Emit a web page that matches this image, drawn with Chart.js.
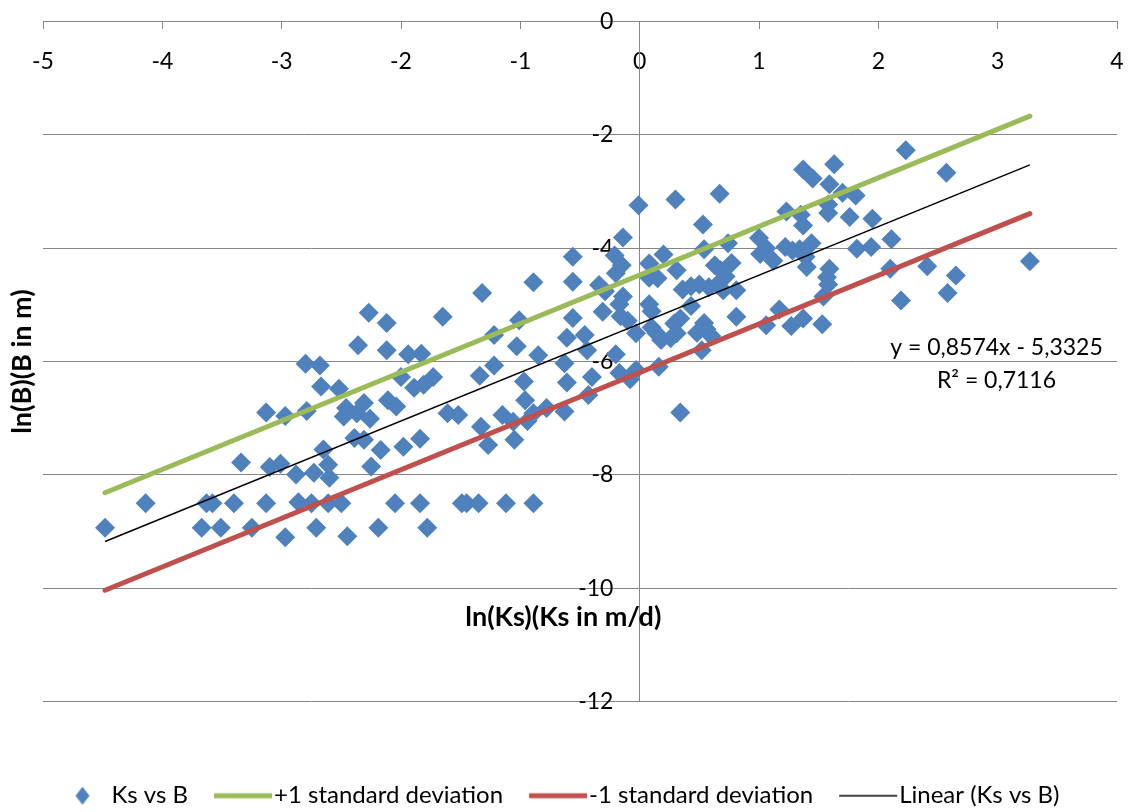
<!DOCTYPE html>
<html>
<head>
<meta charset="utf-8">
<title>ln(Ks) vs ln(B)</title>
<script src="https://cdn.jsdelivr.net/npm/chart.js@4.4.1/dist/chart.umd.min.js"></script>
<style>
  html, body { margin: 0; padding: 0; background: #ffffff; }
  #wrap { position: relative; width: 1132px; height: 812px; }
</style>
</head>
<body>
<div id="wrap"><canvas id="chart" width="1132" height="812"></canvas></div>
<script>
// ln(Ks) (Ks in m/d) for each sample
const lnKs = [
  -4.48, -4.14, -3.67, -3.63, -3.58, -3.51, -3.40, -3.34, -3.25, -3.13, -3.13, -3.10, -3.01, -2.97, -2.97, -2.88, -2.86,
  -2.80, -2.68, -2.79, -2.73, -2.71, -2.75, -2.67, -2.65, -2.61, -2.60, -2.61, -2.52, -2.50, -2.46, -2.48, -2.45, -2.39,
  -2.36, -2.37, -2.31, -2.31, -2.27, -2.26, -2.25, -2.19, -2.17, -2.12, -2.12, -2.11, -2.04, -2.05,
  -2.00, -1.98, -1.94, -1.89, -1.84, -1.83, -1.81, -1.73, -1.84, -1.78, -1.65, -1.61, -1.52, -1.49, -1.45, -1.35, -1.34,
  -1.33, -1.32, -1.27, -1.22, -1.22, -1.15, -1.12, -1.06, -1.05, -1.03, -1.01, -0.97, -0.96, -0.94, -0.89, -0.89, -0.89, -0.85,
  -0.78, -0.63, -0.63, -0.61, -0.61, -0.56, -0.56, -0.56, -0.46, -0.44, -0.43, -0.40, -0.34, -0.29, -0.31, -0.21, -0.15,
  -0.20, -0.14, -0.14, -0.17, -0.16, -0.10, -0.20, -0.17, -0.08, -0.03, -0.03, -0.01,
  0.08, 0.10, 0.08, 0.08, 0.15, 0.10, 0.14, 0.18, 0.16, 0.20, 0.26, 0.31, 0.29, 0.30, 0.31, 0.34, 0.34, 0.36, 0.43, 0.50,
  0.58, 0.65, 0.70, 0.81, 0.43, 0.48, 0.52, 0.54, 0.56, 0.60, 0.53, 0.54, 0.63, 0.67, 0.68, 0.77, 0.72, 0.74, 0.81, 1.00,
  1.06, 1.01, 1.12, 1.06, 1.17, 1.22, 1.28, 1.34, 1.23, 1.27,
  1.35, 1.37, 1.37, 1.45, 1.39, 1.44, 1.40, 1.37, 1.53, 1.54, 1.57, 1.59, 1.58, 1.58, 1.58, 1.59, 1.63, 1.70, 1.81, 1.76,
  1.82, 1.94, 1.95, 2.11, 2.10, 2.19, 2.23, 2.41, 2.57, 2.58, 2.65, 3.27
];

// ln(B) (B in m) for the same samples
const lnB = [
  -8.93, -8.50, -8.93, -8.50, -8.50, -8.93, -8.50, -7.78, -8.93, -6.90, -8.50, -7.86, -7.80, -6.96, -9.10, -7.99, -8.48,
  -6.04, -6.07, -6.87, -7.96, -8.93, -8.50, -6.44, -7.55, -7.82, -8.05, -8.50, -6.48, -8.50, -6.82, -6.97, -9.08, -7.35,
  -5.71, -6.91, -6.73, -7.38, -5.14, -7.01, -7.85, -8.93, -7.56, -5.80, -5.32, -6.68, -6.79, -8.50,
  -6.27, -7.50, -5.87, -6.46, -7.36, -5.86, -6.41, -6.27, -8.50, -8.93, -5.21, -6.91, -6.94, -8.50, -8.50, -8.50, -6.25,
  -7.15, -4.79, -7.47, -6.07, -5.53, -6.94, -8.50, -7.06, -7.38, -5.73, -5.27, -6.35, -6.68, -7.05, -6.91, -4.60, -8.50, -5.89,
  -6.82, -6.03, -6.88, -6.37, -5.58, -4.15, -4.59, -5.23, -5.53, -5.80, -6.59, -6.27, -4.65, -4.76, -5.12, -4.13, -4.30,
  -4.44, -3.81, -4.85, -4.99, -5.20, -5.28, -5.87, -6.20, -6.31, -6.15, -5.50, -3.24,
  -4.99, -5.11, -4.27, -4.52, -4.53, -5.40, -5.50, -5.62, -6.09, -4.11, -5.59, -5.50, -5.33, -3.14, -4.39, -5.24, -6.90, -4.73, -4.67, -4.64,
  -4.69, -4.64, -4.74, -4.74, -5.02, -5.49, -5.80, -5.32, -5.43, -5.55, -3.58, -4.02, -4.30, -3.04, -4.39, -4.26, -4.50, -3.91, -5.21, -3.82,
  -4.00, -4.10, -4.22, -5.36, -5.08, -3.98, -4.04, -4.02, -3.35, -5.37,
  -3.41, -3.60, -2.61, -2.77, -4.15, -3.91, -4.33, -5.24, -5.34, -4.85, -4.51, -4.36, -4.64, -3.38, -3.23, -2.87, -2.52, -3.02, -3.07, -3.45,
  -4.01, -3.98, -3.48, -3.84, -4.36, -4.92, -2.27, -4.32, -2.67, -4.79, -4.48, -4.23
];

// Axis ticks
const xTicks = [-5, -4, -3, -2, -1, 0, 1, 2, 3, 4];
const yTicks = [0, -2, -4, -6, -8, -10, -12];

// Least-squares fit printed on the chart and the +/- 1 standard deviation band
const trendSlope = 0.8574;
const trendIntercept = -5.3325;
const rSquared = 0.7116;
const stdDev = 0.86;

const seriesNames = ['Ks vs B', '+1 standard deviation', '-1 standard deviation', 'Linear (Ks vs B)'];
const xTitle = 'ln(Ks)(Ks in m/d)';
const yTitle = 'ln(B)(B in m)';
const equationText = 'y = 0,8574x - 5,3325';
const r2Text = 'R\u00B2 = 0,7116';

// ---- colours / styling ----
const BLUE = '#4F81BD', GREEN = '#9BBB59', RED = '#C0504D', AXIS = '#868686';
const FONT = 'Lato';
const TICK_FS = 23;            // axis numbers and equation
const LEGEND_FS = 24;          // legend labels
const TITLE_FS = 27;           // bold axis titles
const LEGEND_PAD = 32;
const LEGEND_BOX = 42;
const Y_LABEL_AT = -0.22;      // x value where the y tick labels end

Chart.defaults.font.family = FONT;
Chart.defaults.font.size = TICK_FS;
Chart.defaults.color = '#000';

const points = lnKs.map((x, i) => ({ x: x, y: lnB[i] }));
const xMin = Math.min(...lnKs), xMax = Math.max(...lnKs);
const fitLine = (offset) => [xMin, xMax].map(x => ({ x: x, y: trendSlope * x + trendIntercept + offset }));

// legend swatches, positioned relative to the start of each legend label
const textToCenter = LEGEND_BOX / 2 + LEGEND_FS / 2;
function lineSwatch(color, width) {
  const a = -60 + textToCenter, b = -2 + textToCenter;
  const half = Math.ceil(Math.max(Math.abs(a), Math.abs(b))) + 2;
  const c = document.createElement('canvas');
  c.width = half * 2; c.height = 12;
  const g = c.getContext('2d');
  g.strokeStyle = color; g.lineWidth = width;
  g.beginPath(); g.moveTo(half + a, 6); g.lineTo(half + b, 6); g.stroke();
  return c;
}
function diamondSwatch(color) {
  const cx = -29 + textToCenter;
  const half = Math.ceil(Math.abs(cx)) + 10;
  const c = document.createElement('canvas');
  c.width = half * 2; c.height = 20;
  const g = c.getContext('2d');
  g.fillStyle = color;
  g.beginPath();
  g.moveTo(half + cx, 1); g.lineTo(half + cx + 7, 10); g.lineTo(half + cx, 19); g.lineTo(half + cx - 7, 10);
  g.closePath(); g.fill();
  return c;
}
const swatches = [diamondSwatch(BLUE), lineSwatch(GREEN, 5), lineSwatch(RED, 5), lineSwatch('#000', 1.5)];

// free text: x-axis title and trendline equation
const chartText = {
  id: 'chartText',
  afterDraw(chart) {
    const { ctx, scales: { x, y } } = chart;
    ctx.save();
    ctx.fillStyle = '#000';
    ctx.textAlign = 'center';
    ctx.textBaseline = 'middle';
    ctx.font = 'bold ' + TITLE_FS + 'px ' + FONT;
    ctx.fillText(xTitle, x.getPixelForValue(-0.64), y.getPixelForValue(-10.51));
    ctx.font = TICK_FS + 'px ' + FONT;
    ctx.fillText(equationText, x.getPixelForValue(2.99), y.getPixelForValue(-5.76));
    ctx.fillText(r2Text, x.getPixelForValue(2.99), y.getPixelForValue(-6.33));
    ctx.restore();
  }
};

new Chart(document.getElementById('chart'), {
  type: 'scatter',
  data: {
    datasets: [
      { label: seriesNames[0], data: points, order: 3, yAxisID: 'y',
        pointStyle: 'rectRot', pointRadius: 10, pointHoverRadius: 10, borderWidth: 0,
        backgroundColor: BLUE, borderColor: BLUE },
      { label: seriesNames[1], data: fitLine(stdDev), order: 2, yAxisID: 'y', showLine: true,
        pointRadius: 0, borderColor: GREEN, borderWidth: 5, borderCapStyle: 'round' },
      { label: seriesNames[2], data: fitLine(-stdDev), order: 1, yAxisID: 'y', showLine: true,
        pointRadius: 0, borderColor: RED, borderWidth: 5, borderCapStyle: 'round' },
      { label: seriesNames[3], data: fitLine(0), order: 0, yAxisID: 'y', showLine: true,
        pointRadius: 0, borderColor: '#000', borderWidth: 1.5 }
    ]
  },
  options: {
    responsive: false,
    animation: false,
    layout: { padding: { left: 0, right: 15, top: 21.5, bottom: -5.7 } },
    scales: {
      x: {
        type: 'linear', position: { y: 0 }, min: -5, max: 4,
        afterBuildTicks: (s) => { s.ticks = xTicks.map(v => ({ value: v })); },
        afterFit: (s) => { s.paddingLeft = 0; s.paddingRight = 0; },
        ticks: { color: '#000', padding: 19.7, font: { size: TICK_FS } },
        grid: { drawOnChartArea: false, drawTicks: true, tickLength: 7, color: AXIS, lineWidth: 1 },
        border: { display: true, color: AXIS, width: 1 }
      },
      y: {
        type: 'linear', position: { x: 0 }, min: -12, max: 0,
        afterBuildTicks: (s) => { s.ticks = yTicks.map(v => ({ value: v })); },
        ticks: { display: false },
        grid: { color: AXIS, lineWidth: 1, drawTicks: false },
        border: { display: true, color: AXIS, width: 1 }
      },
      yLabels: {
        type: 'linear', position: { x: Y_LABEL_AT }, min: -12, max: 0,
        afterBuildTicks: (s) => { s.ticks = yTicks.map(v => ({ value: v })); },
        ticks: { color: '#000', font: { size: TICK_FS } },
        grid: { display: false, drawTicks: false },
        border: { display: false }
      },
      yTitle: {
        type: 'linear', position: 'left', min: 0, max: 1,
        ticks: { display: false },
        grid: { display: false, drawTicks: false },
        border: { display: false },
        title: { display: true, text: yTitle, color: '#000',
                 font: { size: TITLE_FS, weight: 'bold' }, padding: { top: 5.8, bottom: 4.8 } }
      }
    },
    plugins: {
      tooltip: { enabled: false },
      legend: {
        display: true, position: 'bottom', align: 'center',
        title: { display: true, text: ' ', font: { size: 12 }, padding: { top: 35.6, bottom: 0 } },
        labels: {
          usePointStyle: true, pointStyleWidth: LEGEND_BOX, padding: LEGEND_PAD, color: '#000',
          font: { size: LEGEND_FS },
          generateLabels: () => seriesNames.map((name, i) => ({
            text: name, pointStyle: swatches[i], datasetIndex: i, hidden: false,
            fontColor: '#000', lineWidth: 0, strokeStyle: 'rgba(0,0,0,0)', fillStyle: 'rgba(0,0,0,0)'
          }))
        }
      }
    }
  },
  plugins: [chartText]
});
</script>
</body>
</html>
